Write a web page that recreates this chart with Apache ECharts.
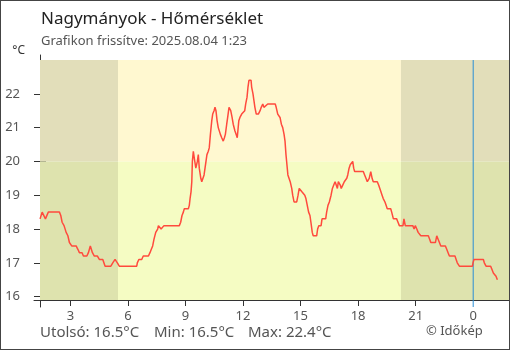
<!DOCTYPE html>
<html>
<head>
<meta charset="utf-8">
<script src="https://cdn.jsdelivr.net/npm/echarts@6/dist/echarts.min.js"></script>
<style>
  html, body { margin: 0; padding: 0; background: #fff; }
  #wrap { position: relative; width: 510px; height: 350px; }
  #chart { position: absolute; left: 0; top: 0; width: 510px; height: 350px; }
  #frame { position: absolute; left: 0; top: 0; width: 510px; height: 350px;
           box-sizing: border-box; border: 1px solid #444; pointer-events: none; }
</style>
</head>
<body>
<div id="wrap"><div id="chart"></div><div id="frame"></div></div>
<script>
// Temperature readings: hour of the day (values above 24 belong to the next day) and °C
const hours = [1.42,1.53,1.70,1.85,2.43,2.50,2.57,2.67,2.78,2.87,2.95,3.07,3.30,3.39,3.47,3.61,3.68,3.86,3.94,4.04,
  4.15,4.25,4.41,4.51,4.69,4.81,5.11,5.21,5.33,5.45,5.55,6.46,6.49,6.57,6.72,6.80,7.07,7.15,7.22,7.29,
  7.36,7.45,7.55,7.59,7.73,7.88,8.68,8.75,8.82,8.89,8.94,9.15,9.20,9.24,9.29,9.33,9.36,9.41,9.46,9.54,
  9.62,9.67,9.72,9.80,9.85,9.97,10.02,10.07,10.12,10.19,10.24,10.30,10.37,10.42,10.49,10.54,10.59,10.65,10.71,10.82,
  10.89,10.97,11.03,11.08,11.15,11.20,11.27,11.36,11.43,11.49,11.58,11.64,11.70,11.78,11.84,11.93,12.02,12.09,12.14,12.21,
  12.26,12.31,12.42,12.45,12.52,12.57,12.62,12.69,12.80,12.89,12.95,13.03,13.09,13.16,13.29,13.68,13.73,13.81,13.88,13.93,
  14.00,14.07,14.14,14.19,14.24,14.29,14.34,14.46,14.54,14.59,14.66,14.71,14.80,14.87,14.93,15.01,15.07,15.22,15.28,15.35,
  15.42,15.49,15.54,15.61,15.66,15.84,15.89,15.95,16.07,16.12,16.31,16.36,16.43,16.50,16.59,16.66,16.73,16.80,16.86,16.92,
  16.97,17.02,17.07,17.12,17.20,17.28,17.41,17.46,17.53,17.59,17.67,17.72,17.77,17.82,18.27,18.34,18.41,18.48,18.53,18.58,
  18.66,18.73,18.79,19.00,19.07,19.14,19.19,19.25,19.31,19.40,19.46,19.52,19.70,19.75,19.84,20.01,20.08,20.15,20.34,20.39,
  20.46,20.85,20.92,20.98,21.06,21.13,21.19,21.27,21.66,21.73,21.79,22.03,22.10,22.17,22.24,22.31,22.38,22.55,22.62,22.69,
  22.76,23.05,23.11,23.17,23.28,23.96,23.99,24.04,24.53,24.58,24.67,24.91,24.98,25.05,25.12,25.19,25.26];
const temps = [18.3,18.5,18.3,18.5,18.5,18.4,18.2,18.1,17.9,17.8,17.6,17.5,17.5,17.4,17.3,17.3,17.2,17.2,17.3,17.5,
  17.3,17.2,17.2,17.1,17.1,16.9,16.9,17.0,17.1,17.0,16.9,16.9,17.0,17.1,17.1,17.2,17.2,17.3,17.4,17.5,
  17.7,17.9,18.0,18.1,18.0,18.1,18.1,18.2,18.4,18.5,18.6,18.6,18.7,18.9,19.1,19.4,20.0,20.3,20.1,19.8,
  20.0,20.2,19.8,19.5,19.4,19.6,19.8,20.0,20.2,20.3,20.4,20.8,21.2,21.4,21.5,21.6,21.5,21.2,21.0,20.8,
  20.7,20.6,20.7,20.8,21.1,21.3,21.6,21.5,21.3,21.1,20.9,20.8,20.7,21.2,21.3,21.4,21.4,21.5,21.7,21.9,
  22.2,22.4,22.4,22.2,22.0,21.8,21.6,21.4,21.4,21.5,21.6,21.7,21.6,21.6,21.7,21.7,21.6,21.4,21.4,21.3,
  21.1,21.0,20.8,20.6,20.2,19.9,19.6,19.4,19.2,19.0,18.8,18.8,18.8,19.0,19.2,19.2,19.1,19.0,18.9,18.7,
  18.5,18.4,18.2,17.9,17.8,17.8,18.0,18.1,18.1,18.3,18.3,18.5,18.7,18.8,19.0,19.2,19.3,19.4,19.3,19.2,
  19.4,19.4,19.3,19.2,19.3,19.4,19.5,19.6,19.8,19.9,19.9,20.0,19.8,19.7,19.7,19.6,19.5,19.4,19.4,19.5,
  19.7,19.5,19.4,19.4,19.3,19.3,19.1,19.0,18.9,18.8,18.7,18.6,18.6,18.5,18.3,18.3,18.2,18.1,18.1,18.3,
  18.1,18.1,18.0,18.1,18.0,17.9,17.9,17.8,17.8,17.7,17.6,17.6,17.8,17.7,17.6,17.5,17.5,17.5,17.4,17.3,
  17.2,17.2,17.1,17.0,16.9,16.9,17.0,17.1,17.1,17.0,16.9,16.9,16.8,16.7,16.7,16.6,16.5];

// Axis extents and tick positions
const xMin = 1 + 25 / 60;          // 1:25 previous day
const xMax = 25 + 52 / 60;         // 1:52 today
const hourTicks = [3, 6, 9, 12, 15, 18, 21];
const hourLabels = [3, 6, 9, 12, 15, 18, 21, 24];
const midnight = 24;
const yMin = 15.9, yMax = 23;
const tempTicks = [16, 17, 18, 19, 20, 21, 22];
const warmLimit = 20;              // colour change of the background
const sunrise = 5 + 29 / 60;
const sunset = 20 + 14 / 60;

const title = 'Nagymányok - Hőmérséklet';
const subtitle = 'Grafikon frissítve: 2025.08.04 1:23';
const credit = '© Időkép';

const FONT = '"Noto Sans", "Open Sans", sans-serif';
const AXIS = '#333';
const TEXT = '#555';
const DAY_LINE = '#2a8fd6';

const fmt = v => v.toFixed(1);
const lastT = temps[temps.length - 1];
const minT = Math.min(...temps);
const maxT = Math.max(...temps);

const series = hours.map((h, i) => [h, temps[i]]);

const bands = [
  [xMin, sunrise, warmLimit, yMax, '#e2deba'],
  [xMin, sunrise, yMin, warmLimit, '#dee3ae'],
  [sunrise, sunset, warmLimit, yMax, '#fff8d0'],
  [sunrise, sunset, yMin, warmLimit, '#f5fcc3'],
  [sunset, xMax, warmLimit, yMax, '#e2deba'],
  [sunset, xMax, yMin, warmLimit, '#dee3ae']
].map(b => [
  { xAxis: b[0], yAxis: b[2], itemStyle: { color: b[4] } },
  { xAxis: b[1], yAxis: b[3] }
]);

const chart = echarts.init(document.getElementById('chart'), null, { renderer: 'canvas' });

const lineOnly = (pos, extra) => Object.assign({
  type: 'value', position: pos,
  axisLine: { show: true, lineStyle: { color: AXIS, width: 1 } },
  axisTick: { show: false }, axisLabel: { show: false }, splitLine: { show: false }
}, extra);
const grid = (left, top, width, height) =>
  ({ left, top, width, height, outerBoundsMode: 'none', containLabel: false });

chart.setOption({
  animation: false,
  textStyle: { fontFamily: FONT },
  grid: [
    grid(40, 60, 469, 240),   // plot area
    grid(40, 55, 469, 252),   // vertical axis line, slightly longer than the plot
    grid(34, 60, 476, 240),   // horizontal axis line, reaching left of the plot
    grid(40, 60, 469, 247)    // midnight marker, reaching below the axis
  ],
  xAxis: [
    { type: 'value', gridIndex: 0, min: xMin, max: xMax, position: 'bottom',
      axisLine: { show: false }, splitLine: { show: false },
      axisTick: { show: true, inside: true, length: 6, customValues: hourTicks,
                  lineStyle: { color: AXIS } },
      axisLabel: { show: true, customValues: hourLabels, margin: 10,
                   formatter: v => String(v % 24), fontSize: 13, color: TEXT, fontFamily: FONT } },
    { type: 'value', gridIndex: 0, min: xMin, max: xMax, position: 'bottom',
      axisLine: { show: false }, splitLine: { show: false }, axisLabel: { show: false },
      axisTick: { show: true, inside: false, length: 6, customValues: hourTicks,
                  lineStyle: { color: AXIS } } },
    { type: 'value', gridIndex: 1, show: false },
    lineOnly('bottom', { gridIndex: 2, min: 0, max: 1 }),
    { type: 'value', gridIndex: 3, show: false, min: xMin, max: xMax }
  ],
  yAxis: [
    { type: 'value', gridIndex: 0, min: yMin, max: yMax, position: 'left',
      axisLine: { show: false }, splitLine: { show: false },
      axisTick: { show: true, inside: true, length: 6, customValues: tempTicks,
                  lineStyle: { color: AXIS } },
      axisLabel: { show: true, customValues: tempTicks, margin: 20,
                   fontSize: 13, color: TEXT, fontFamily: FONT } },
    { type: 'value', gridIndex: 0, min: yMin, max: yMax, position: 'left',
      axisLine: { show: false }, splitLine: { show: false }, axisLabel: { show: false },
      axisTick: { show: true, inside: false, length: 6, customValues: tempTicks,
                  lineStyle: { color: AXIS } } },
    lineOnly('left', { gridIndex: 1, min: 0, max: 1 }),
    { type: 'value', gridIndex: 2, show: false },
    { type: 'value', gridIndex: 3, show: false, min: 0, max: 1 }
  ],
  series: [
    { type: 'line', xAxisIndex: 0, yAxisIndex: 0, data: [], z: 1, silent: true,
      markArea: { silent: true, data: bands } },
    // vertical line at midnight, spanning the marker grid from top to just below the axis
    { type: 'line', xAxisIndex: 4, yAxisIndex: 4, data: [[midnight, 0], [midnight, 1]], z: 2,
      silent: true, showSymbol: false, symbol: 'none', clip: false,
      lineStyle: { width: 1, color: DAY_LINE } },
    { type: 'line', xAxisIndex: 0, yAxisIndex: 0, data: series, z: 3,
      showSymbol: false, smooth: false,
      lineStyle: { color: '#ff4a3d', width: 1.5 } },
    { type: 'line', xAxisIndex: 2, yAxisIndex: 2, data: [] },
    { type: 'line', xAxisIndex: 3, yAxisIndex: 3, data: [] }
  ],
  graphic: [
    { type: 'text', x: 41, y: 19, style: { text: title, font: '17px ' + FONT, fill: '#222', textVerticalAlign: 'middle' } },
    { type: 'text', x: 41, y: 41, style: { text: subtitle, font: '13px ' + FONT, fill: TEXT, textVerticalAlign: 'middle' } },
    { type: 'text', x: 25, y: 51, style: { text: '°C', font: '12px ' + FONT, fill: '#333', textAlign: 'right', textVerticalAlign: 'middle' } },
    { type: 'text', x: 40, y: 333, style: { text: 'Utolsó: ' + fmt(lastT) + '°C', font: '15px ' + FONT, fill: TEXT, textVerticalAlign: 'middle' } },
    { type: 'text', x: 154, y: 333, style: { text: 'Min: ' + fmt(minT) + '°C', font: '15px ' + FONT, fill: TEXT, textVerticalAlign: 'middle' } },
    { type: 'text', x: 248, y: 333, style: { text: 'Max: ' + fmt(maxT) + '°C', font: '15px ' + FONT, fill: TEXT, textVerticalAlign: 'middle' } },
    { type: 'text', x: 426, y: 331, style: { text: credit, font: '13px ' + FONT, fill: TEXT, textVerticalAlign: 'middle' } }
  ]
});
</script>
</body>
</html>
